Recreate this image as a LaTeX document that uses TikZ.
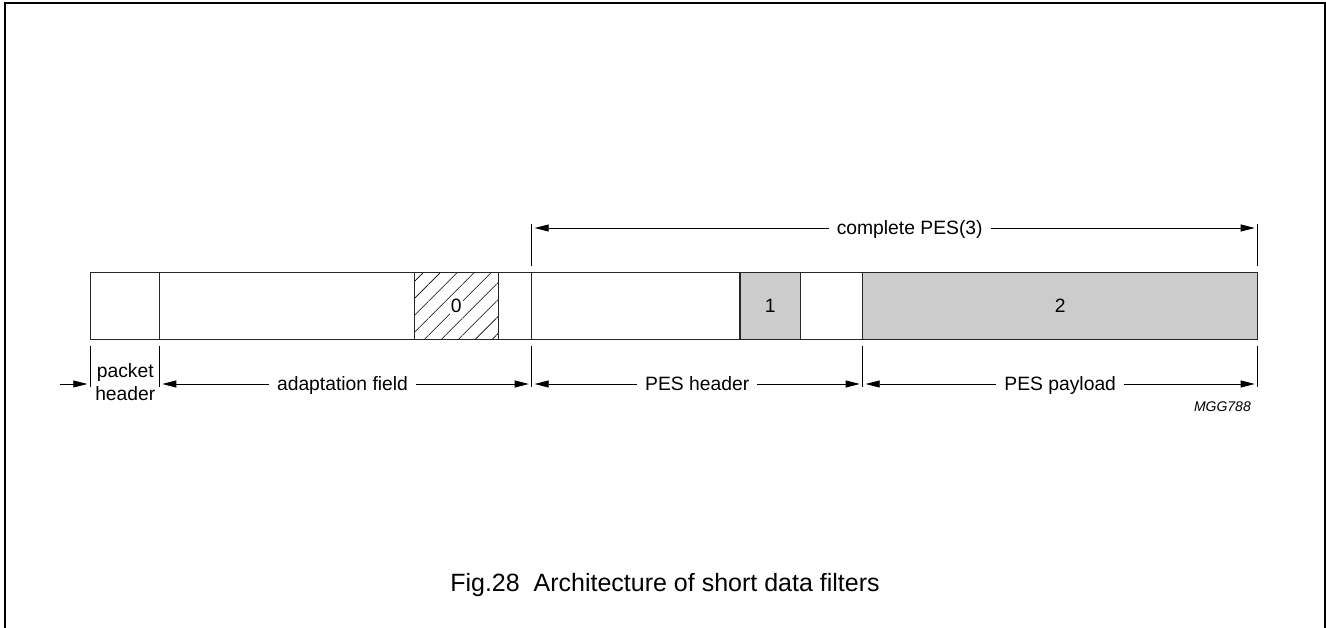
\documentclass[tikz,border=0pt]{standalone}
\usepackage{fontspec}
\setmainfont{Liberation Sans}
\usepackage{tikz}
\usetikzlibrary{positioning}
\usetikzlibrary{arrows.meta,calc}
\usetikzlibrary{patterns.meta}
\newcommand{\lbl}{\fontsize{19.3}{22.3}\selectfont}
\newcommand{\capfont}{\fontsize{25}{28}\selectfont}
\newcommand{\codefont}{\fontsize{14}{16}\selectfont\itshape}
\tikzstyle{seg}=[draw=black!85, line width=1.3pt, anchor=west, minimum height=66.6pt, inner sep=0pt, outer sep=0pt, text height=13.9pt, text depth=0pt, font=\lbl]
\tikzstyle{greyseg}=[seg, fill=black!20]
\tikzstyle{hatchseg}=[seg, pattern={Lines[angle=45,distance=12pt,line width=0.6pt]}]
\tikzstyle{tick}=[draw, line width=0.8pt]
\tikzstyle{dimarrow}=[draw, line width=0.8pt, -{Triangle[length=14pt,width=7pt]}, shorten >=3pt]
\tikzstyle{dimlabel}=[font=\lbl, text height=13.9pt, text depth=0pt, inner xsep=8pt, inner ysep=0pt]
\tikzstyle{frame}=[draw, line width=1.5pt]

\begin{document}
\begin{tikzpicture}[x=1pt, y=1pt]

    \useasboundingbox (0,0) rectangle (1326,628);
    \draw[frame] (5,0) -- (5,625) -- (1325,625) -- (1325,0);

    \def\bary{322};
    \def\rowy{244};
    % the packet, left to right
    \foreach \name/\x/\w/\sty/\txt in { ph/90.3/69/seg/, af1/159.3/255/seg/, h0/414.3/84/hatchseg/, af2/498.3/33.4/seg/, pes1/531.7/208.3/seg/, g1/740/60.7/greyseg/1, pes2/800.7/62/seg/, g2/862.7/395/greyseg/2 }
        \node[\sty, minimum width=\w pt] (\name) at (\x, \bary) {\txt};

    \node[fill=white, inner sep=1pt, font=\lbl] (zero) at (h0) {0};

    % ticks
    \foreach \n in {ph.south west, ph.south east, af2.south east, pes2.south east, g2.south east}
        \draw[tick] ([yshift=-7pt]\n) -- ++(0,-41);
    \foreach \n in {af2.north east, g2.north east}
        \draw[tick] ([yshift=7pt]\n) -- ++(0,42);

    % bottom row
    \coordinate (in) at (60, \rowy);
    \draw[dimarrow] (in) -- (in -| ph.west);
    \node[font=\lbl, align=center, inner sep=0pt] (phlab) at ($(ph.center)+(0.5,-76)$) {packet\\header};

    \node[dimlabel] (aflab) at ($(ph.east)!0.5!(af2.east)+(-3,-78)$) {adaptation field};
    \draw[dimarrow] (aflab.west) -- (aflab.west -| ph.east);
    \draw[dimarrow] (aflab.east) -- (aflab.east -| af2.east);

    \node[dimlabel] (phdlab) at ($(af2.east)!0.5!(pes2.east)+(0,-78)$) {PES header};
    \draw[dimarrow] (phdlab.west) -- (phdlab.west -| af2.east);
    \draw[dimarrow] (phdlab.east) -- (phdlab.east -| pes2.east);

    \node[dimlabel] (pplab) at ($(pes2.east)!0.5!(g2.east)+(0,-78)$) {PES payload};
    \draw[dimarrow] (pplab.west) -- (pplab.west -| pes2.east);
    \draw[dimarrow] (pplab.east) -- (pplab.east -| g2.east);

    % top row
    \node[dimlabel] (cplab) at ($(af2.east)!0.5!(g2.east)+(15,78)$) {complete PES(3)};
    \draw[dimarrow] (cplab.west) -- (cplab.west -| af2.east);
    \draw[dimarrow] (cplab.east) -- (cplab.east -| g2.east);

    \node[font=\codefont, anchor=base east, inner sep=0pt] (code) at (1251, 216) {MGG788};
    \node[font=\capfont, anchor=base, inner sep=0pt] (caption) at (665, 36) {Fig.28~~Architecture of short data filters};

\end{tikzpicture}
\end{document}
